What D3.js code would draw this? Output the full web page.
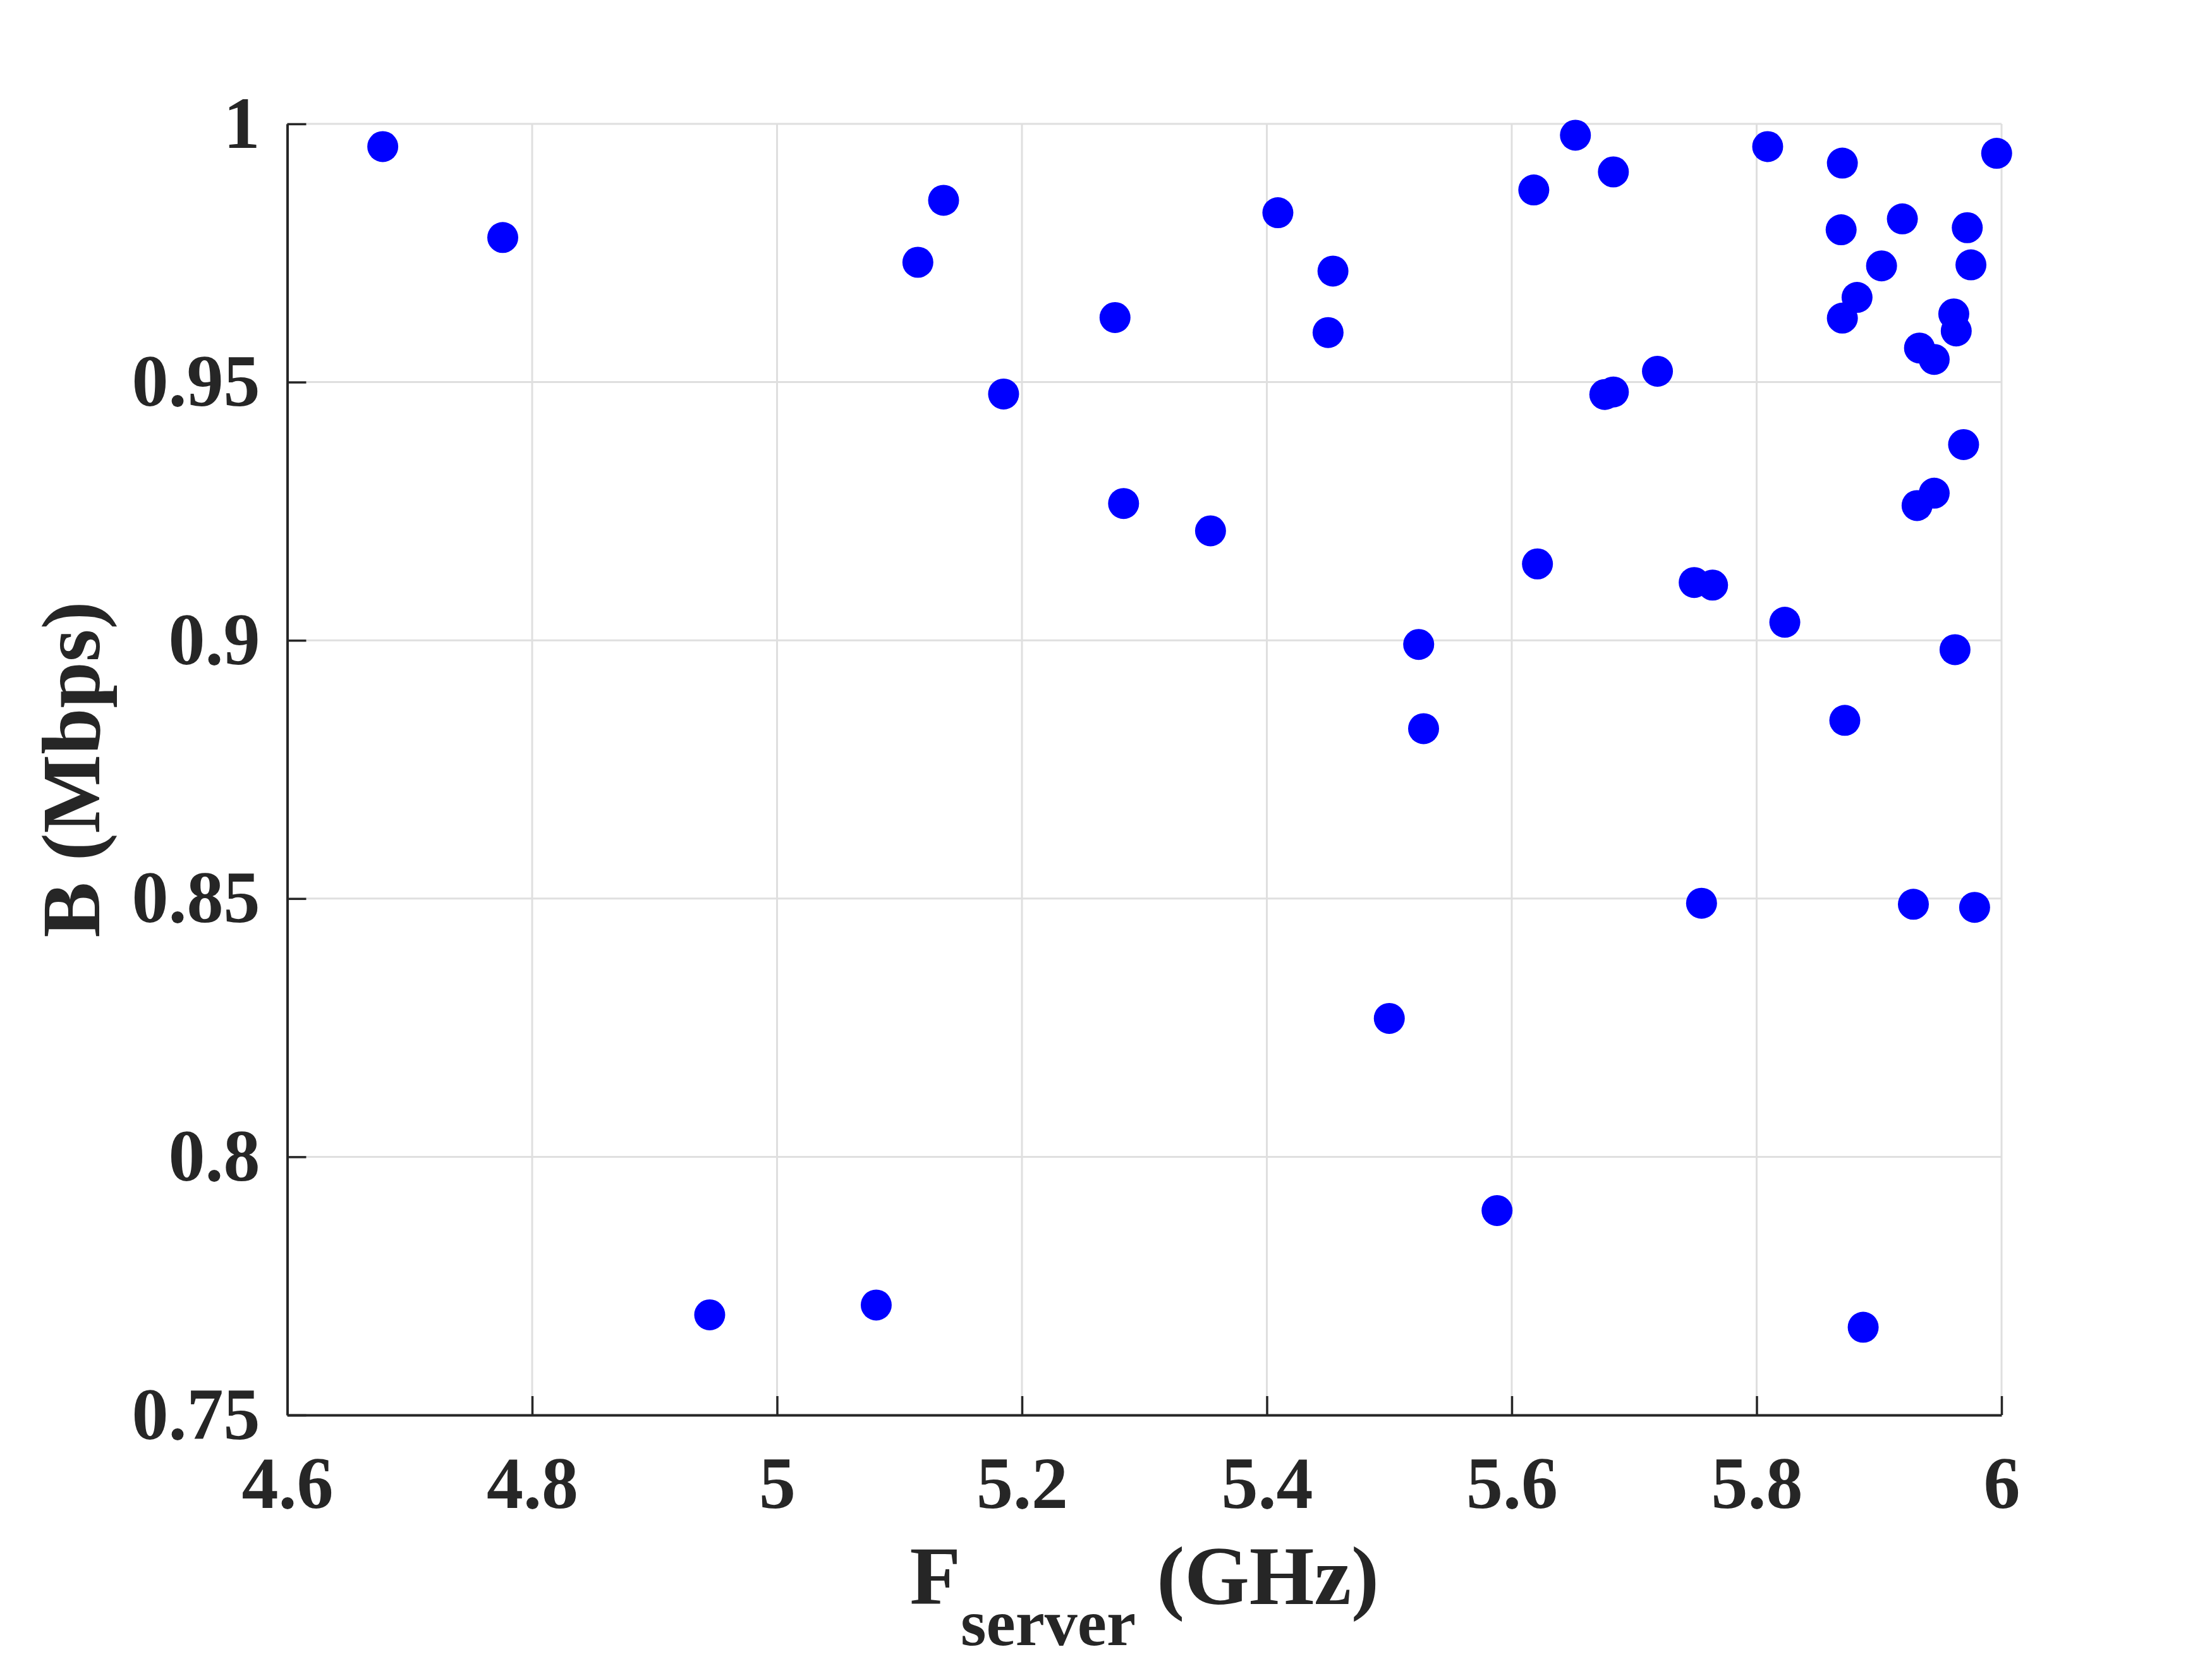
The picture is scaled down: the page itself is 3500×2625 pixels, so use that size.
<!DOCTYPE html>
<html>
<head>
<meta charset="utf-8">
<script src="https://cdn.jsdelivr.net/npm/d3@7"></script>
<style>
  html, body { margin: 0; padding: 0; background: #ffffff; }
  svg { display: block; }
</style>
</head>
<body>
<svg id="chart" width="3500" height="2625"></svg>
<script>
// ---- data ----
const fServer = [
  4.678, 4.776, 4.945, 5.081, 5.115, 5.136, 5.185, 5.276, 5.283, 5.354,
  5.409, 5.454, 5.450, 5.500, 5.524, 5.528, 5.588, 5.618, 5.621, 5.652,
  5.683, 5.676, 5.683, 5.719, 5.749, 5.764, 5.755, 5.809, 5.823, 5.870,
  5.869, 5.870, 5.882, 5.872, 5.887, 5.902, 5.919, 5.933, 5.945, 5.931,
  5.945, 5.928, 5.961, 5.963, 5.962, 5.972, 5.975, 5.969, 5.978, 5.996
];
const bandwidth = [
  0.9956, 0.9780, 0.7694, 0.7713, 0.9732, 0.9852, 0.9477, 0.9625, 0.9265, 0.9212,
  0.9828, 0.9715, 0.9596, 0.8268, 0.8992, 0.8829, 0.7896, 0.9872, 0.9148, 0.9978,
  0.9907, 0.9476, 0.9481, 0.9521, 0.9112, 0.9107, 0.8491, 0.9956, 0.9035, 0.9924,
  0.9795, 0.9624, 0.9664, 0.8845, 0.7670, 0.9725, 0.9816, 0.9566, 0.9544, 0.9261,
  0.9285, 0.8489, 0.9632, 0.9599, 0.8982, 0.9799, 0.9727, 0.9379, 0.8483, 0.9943
];
const xTicks = [4.6, 4.8, 5.0, 5.2, 5.4, 5.6, 5.8, 6.0];
const yTicks = [0.75, 0.8, 0.85, 0.9, 0.95, 1.0];
const xDomain = [4.6, 6.0];
const yDomain = [0.75, 1.0];

// ---- layout ----
const L = 454.5, R = 3167, T = 196, B = 2239;
const FONT = "'Liberation Serif', 'Times New Roman', serif";
const INK = "#262626";

const svg = d3.select("#chart");
svg.append("rect").attr("width", 3500).attr("height", 2625).attr("fill", "#ffffff");

const x = d3.scaleLinear().domain(xDomain).range([L, R]);
const y = d3.scaleLinear().domain(yDomain).range([B, T]);

// grid
const grid = svg.append("g").attr("stroke", "#dfdfdf").attr("stroke-width", 3);
grid.selectAll("line.vx").data(xTicks).join("line")
  .attr("x1", d => x(d)).attr("x2", d => x(d))
  .attr("y1", T).attr("y2", B);
grid.selectAll("line.hy").data(yTicks).join("line")
  .attr("x1", L).attr("x2", R)
  .attr("y1", d => y(d)).attr("y2", d => y(d));

// axes
const fmt = d => d3.format("~g")(d);
const xAxis = d3.axisBottom(x).tickValues(xTicks).tickFormat(fmt)
  .tickSizeInner(-30).tickSizeOuter(0).tickPadding(65);
const yAxis = d3.axisLeft(y).tickValues(yTicks).tickFormat(fmt)
  .tickSizeInner(-30).tickSizeOuter(0).tickPadding(43);

const gx = svg.append("g").attr("transform", `translate(0,${B})`).call(xAxis);
const gy = svg.append("g").attr("transform", `translate(${L},0)`).call(yAxis);

[gx, gy].forEach(g => {
  g.select(".domain").attr("stroke", INK).attr("stroke-width", 4);
  g.selectAll(".tick line").attr("stroke", INK).attr("stroke-width", 3.5);
  g.selectAll(".tick text")
    .attr("fill", INK)
    .style("font-family", FONT)
    .style("font-weight", "bold")
    .style("font-size", "116px");
});

// points
svg.append("g").selectAll("circle")
  .data(fServer.map((f, i) => [f, bandwidth[i]]))
  .join("circle")
  .attr("cx", d => x(d[0]))
  .attr("cy", d => y(d[1]))
  .attr("r", 24.5)
  .attr("fill", "#0000ff");

// x label: F_server (GHz)
const xl = svg.append("text")
  .attr("x", (L + R) / 2)
  .attr("y", 2538)
  .attr("text-anchor", "middle")
  .attr("fill", INK)
  .style("font-family", FONT)
  .style("font-weight", "bold")
  .style("font-size", "132px");
xl.append("tspan").text("F");
xl.append("tspan").attr("dy", 65).style("font-size", "104px").text("server");
xl.append("tspan").attr("dy", -65).text(" (GHz)");

// y label
svg.append("text")
  .attr("transform", `translate(157,${(T + B) / 2}) rotate(-90)`)
  .attr("text-anchor", "middle")
  .attr("fill", INK)
  .style("font-family", FONT)
  .style("font-weight", "bold")
  .style("font-size", "132px")
  .text("B (Mbps)");
</script>
</body>
</html>
